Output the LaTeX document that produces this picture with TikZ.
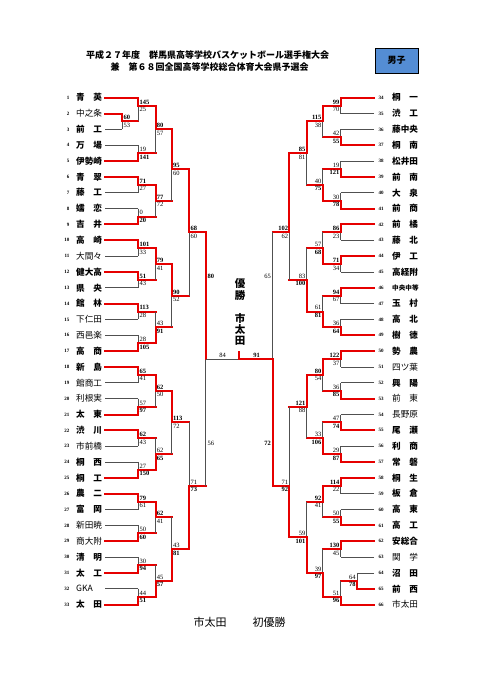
\documentclass[tikz,border=0pt]{standalone}
\usepackage{fontspec}
\setmainfont{Liberation Serif}
\newfontfamily\jp{Noto Sans CJK JP}

\definecolor{brkred}{RGB}{230,0,0}
\definecolor{brkgray}{RGB}{80,80,80}
\definecolor{boxblue}{RGB}{84,141,212}

\tikzset{
  win/.style={draw=brkred, line width=2pt, line cap=rect},
  lose/.style={draw=brkgray, line width=0.8pt},
  score/.style={font=\fontsize{6.5}{7}\selectfont, inner sep=0.3pt},
  wscore/.style={font=\fontsize{6.5}{7}\selectfont\bfseries, inner sep=0.3pt},
  tnum/.style={font=\fontsize{5}{5}\selectfont\bfseries, inner sep=0pt},
  tmb/.style={font=\jp\bfseries\fontsize{8.6}{9}\selectfont, inner sep=0pt},
  tmr/.style={font=\jp\fontsize{8.6}{9}\selectfont, inner sep=0pt},
  head/.style={font=\jp\bfseries\fontsize{9}{10}\selectfont, inner sep=0pt},
}

\begin{document}
\begin{tikzpicture}[x=1pt, y=-1pt]
  \useasboundingbox (0,0) rectangle (481,680);
  \fill[white] (0,0) rectangle (481,680);

  % Title lines
  \node[head] (title1) at (207.5,55) {平成２７年度　群馬県高等学校バスケットボール選手権大会};
  \node[head] (title2) at (209.5,67) {兼　第６８回全国高等学校総合体育大会県予選会};
  \node[head, draw=black, fill=boxblue, line width=0.7pt, minimum width=43pt, minimum height=25pt] (sex) at (396.5,60.5) {男子};

  % Bracket, one row = 2 units
  \begin{scope}[yshift=-97.7pt, y=-7.92pt]
    % Left teams
    \foreach \n/\nm/\won/\wt in {1/青　英/1/b, 2/中之条/1/r, 3/前　工/0/b, 4/万　場/0/b, 5/伊勢崎/1/b,
        6/青　翠/1/b, 7/藤　工/0/b, 8/嬬　恋/0/b, 9/吉　井/1/b, 10/高　崎/1/b, 11/大間々/0/r,
        12/健大高/1/b, 13/県　央/0/b, 14/館　林/1/b, 15/下仁田/0/r, 16/西邑楽/0/r, 17/高　商/1/b,
        18/新　島/1/b, 19/館商工/0/r, 20/利根実/0/r, 21/太　東/1/b, 22/渋　川/1/b, 23/市前橋/0/r,
        24/桐　西/0/b, 25/桐　工/1/b, 26/農　二/1/b, 27/富　岡/0/b, 28/新田暁/0/r, 29/商大附/1/r,
        30/清　明/0/b, 31/太　工/1/b, 32/GKA/0/r, 33/太　田/1/b}{
      \pgfmathsetmacro\kk{2*(\n-1)}
      \pgfmathsetmacro\jx{(\n==2||\n==3) ? 122.3 : 138.3}
      \node[tnum, anchor=east] (LN\n) at (69.5,\kk) {\n};
      \node[tm\wt, anchor=west] (L\n) at (76,\kk) {\nm};
      \ifnum\won=1 \draw[win] (105,\kk) -- (\jx,\kk); \else \draw[lose] (105,\kk) -- (\jx,\kk); \fi
    }

    % Right teams
    \foreach \n/\nm/\won/\wt in {34/桐　一/1/b, 35/渋　工/0/b, 36/藤中央/0/b, 37/桐　南/1/b, 38/松井田/0/b,
        39/前　南/1/b, 40/大　泉/0/b, 41/前　商/1/b, 42/前　橘/1/b, 43/藤　北/0/b, 44/伊　工/1/b,
        45/高経附/0/b, 46/{\fontsize{6.6}{7}\selectfont 中央中等}/1/b, 47/玉　村/0/b, 48/高　北/0/b,
        49/樹　徳/1/b, 50/勢　農/1/b, 51/四ツ葉/0/r, 52/興　陽/0/b, 53/前　東/1/r, 54/長野原/0/r,
        55/尾　瀬/1/b, 56/利　商/0/b, 57/常　磐/1/b, 58/桐　生/1/b, 59/板　倉/0/b, 60/高　東/0/b,
        61/高　工/1/b, 62/安総合/1/b, 63/関　学/0/r, 64/沼　田/0/b, 65/前　西/1/b, 66/市太田/1/r}{
      \pgfmathsetmacro\kk{2*(\n-34)}
      \pgfmathsetmacro\jx{(\n==64||\n==65) ? 357 : 340.7}
      \node[tnum, anchor=west] (RN\n) at (378.5,\kk) {\n};
      \node[tm\wt, anchor=west] (R\n) at (392,\kk) {\nm};
      \ifnum\won=1 \draw[win] (374,\kk) -- (\jx,\kk); \else \draw[lose] (374,\kk) -- (\jx,\kk); \fi
    }

    % Left games: x / next x / top / bottom / out / scores / winner
    \foreach \x/\nx/\ya/\yb/\yo/\sa/\sb/\w in {122.3/138.3/2/4/3/60/53/t,
        138.3/155.5/0/3/1/145/25/t, 138.3/155.5/6/8/7/19/141/b, 138.3/155.5/10/12/11/71/27/t,
        138.3/155.5/14/16/15/0/20/b, 138.3/155.5/18/20/19/101/33/t, 138.3/155.5/22/24/23/51/43/t,
        138.3/155.5/26/28/27/113/28/t, 138.3/155.5/30/32/31/28/105/b, 138.3/155.5/34/36/35/65/41/t,
        138.3/155.5/38/40/39/57/97/b, 138.3/155.5/42/44/43/62/43/t, 138.3/155.5/46/48/47/27/150/b,
        138.3/155.5/50/52/51/79/61/t, 138.3/155.5/54/56/55/50/60/b, 138.3/155.5/58/60/59/30/94/b,
        138.3/155.5/62/64/63/44/51/b,
        155.5/171.7/1/7/4/80/57/t, 155.5/171.7/11/15/13/77/72/t, 155.5/171.7/19/23/21/79/41/t,
        155.5/171.7/27/31/29/43/91/b, 155.5/171.7/35/39/37/62/50/t, 155.5/171.7/43/47/45/62/65/b,
        155.5/171.7/51/55/53/62/41/t, 155.5/171.7/59/63/61/45/57/b,
        171.7/189.3/4/13/9/95/60/t, 171.7/189.3/21/29/25/90/52/t, 171.7/189.3/37/45/41/113/72/t,
        171.7/189.3/53/61/57/43/81/b,
        189.3/205.7/9/25/17/68/60/t, 189.3/205.7/41/57/49/71/73/b}{
      \draw[lose] (\x,\ya) -- (\x,\yb);
      \if\w t
        \draw[win] (\x,\ya) -- (\x,\yo) -- (\nx,\yo);
        \node[wscore, anchor=south west] at ([xshift=0.8pt,yshift=1pt]\x,\yo) {\sa};
        \node[score, anchor=north west] at ([xshift=0.8pt,yshift=-1.2pt]\x,\yo) {\sb};
      \else
        \draw[win] (\x,\yb) -- (\x,\yo) -- (\nx,\yo);
        \node[score, anchor=south west] at ([xshift=0.8pt,yshift=1pt]\x,\yo) {\sa};
        \node[wscore, anchor=north west] at ([xshift=0.8pt,yshift=-1.2pt]\x,\yo) {\sb};
      \fi
    }

    % Right games
    \foreach \x/\nx/\ya/\yb/\yo/\sa/\sb/\w in {357/340.7/60/62/61/64/78/b,
        340.7/322.7/0/2/1/99/70/t, 340.7/322.7/4/6/5/42/55/b, 340.7/322.7/8/10/9/19/121/b,
        340.7/322.7/12/14/13/30/78/b, 340.7/322.7/16/18/17/86/23/t, 340.7/322.7/20/22/21/71/34/t,
        340.7/322.7/24/26/25/94/67/t, 340.7/322.7/28/30/29/36/64/b, 340.7/322.7/32/34/33/122/37/t,
        340.7/322.7/36/38/37/36/85/b, 340.7/322.7/40/42/41/47/74/b, 340.7/322.7/44/46/45/29/87/b,
        340.7/322.7/48/50/49/114/22/t, 340.7/322.7/52/54/53/50/55/b, 340.7/322.7/56/58/57/130/45/t,
        340.7/322.7/61/64/63/51/96/b,
        322.7/306.7/1/5/3/115/38/t, 322.7/306.7/9/13/11/40/75/b, 322.7/306.7/17/21/19/57/68/b,
        322.7/306.7/25/29/27/61/81/b, 322.7/306.7/33/37/35/80/54/t, 322.7/306.7/41/45/43/33/106/b,
        322.7/306.7/49/53/51/92/41/t, 322.7/306.7/57/63/60/39/97/b,
        306.7/289.3/3/11/7/85/81/t, 306.7/289.3/19/27/23/83/100/b, 306.7/289.3/35/43/39/121/88/t,
        306.7/289.3/51/60/55.5/59/101/b,
        289.3/272.7/7/23/17/102/62/t, 289.3/272.7/39/55.5/49/71/92/b}{
      \draw[lose] (\x,\ya) -- (\x,\yb);
      \if\w t
        \draw[win] (\x,\ya) -- (\x,\yo) -- (\nx,\yo);
        \node[wscore, anchor=south east] at ([xshift=-0.8pt,yshift=1pt]\x,\yo) {\sa};
        \node[score, anchor=north east] at ([xshift=-0.8pt,yshift=-1.2pt]\x,\yo) {\sb};
      \else
        \draw[win] (\x,\yb) -- (\x,\yo) -- (\nx,\yo);
        \node[score, anchor=south east] at ([xshift=-0.8pt,yshift=1pt]\x,\yo) {\sa};
        \node[wscore, anchor=north east] at ([xshift=-0.8pt,yshift=-1.2pt]\x,\yo) {\sb};
      \fi
    }

    % Semifinals
    \draw[lose] (205.7,17) -- (205.7,49);
    \draw[win] (205.7,17) -- (205.7,33);
    \node[wscore, anchor=west] at (207,22.5) {80};
    \node[score, anchor=west] at (207,43.6) {56};
    \draw[lose] (272.7,17) -- (272.7,49);
    \draw[win] (272.7,49) -- (272.7,33);
    \node[score, anchor=east] at (271.4,22.5) {65};
    \node[wscore, anchor=east] at (271.4,43.6) {72};

    % Final
    \coordinate (fin) at (239,33);
    \draw[lose] (205.7,33) -- (fin);
    \draw[win] (fin) -- (272.7,33);
    \draw[win] (fin) -- ++(0,-0.85);
    \node[score, anchor=south] at ([yshift=1pt]222.7,33) {84};
    \node[wscore, anchor=south] at ([yshift=1pt]256.7,33) {91};
  \end{scope}

  % Champion
  \node[font=\jp\bfseries\fontsize{10.5}{12}\selectfont, align=center, inner sep=0pt] (champ) at (240,289.5) {優\\勝};
  \node[font=\jp\bfseries\fontsize{10.5}{11}\selectfont, align=center, inner sep=0pt] (champname) at (240,329) {市\\太\\田};

  % Footer
  \node[font=\jp\fontsize{11}{12}\selectfont, inner sep=0pt] (foot1) at (210,622) {市太田};
  \node[font=\jp\fontsize{11}{12}\selectfont, inner sep=0pt] (foot2) at (269,622) {初優勝};
\end{tikzpicture}
\end{document}
